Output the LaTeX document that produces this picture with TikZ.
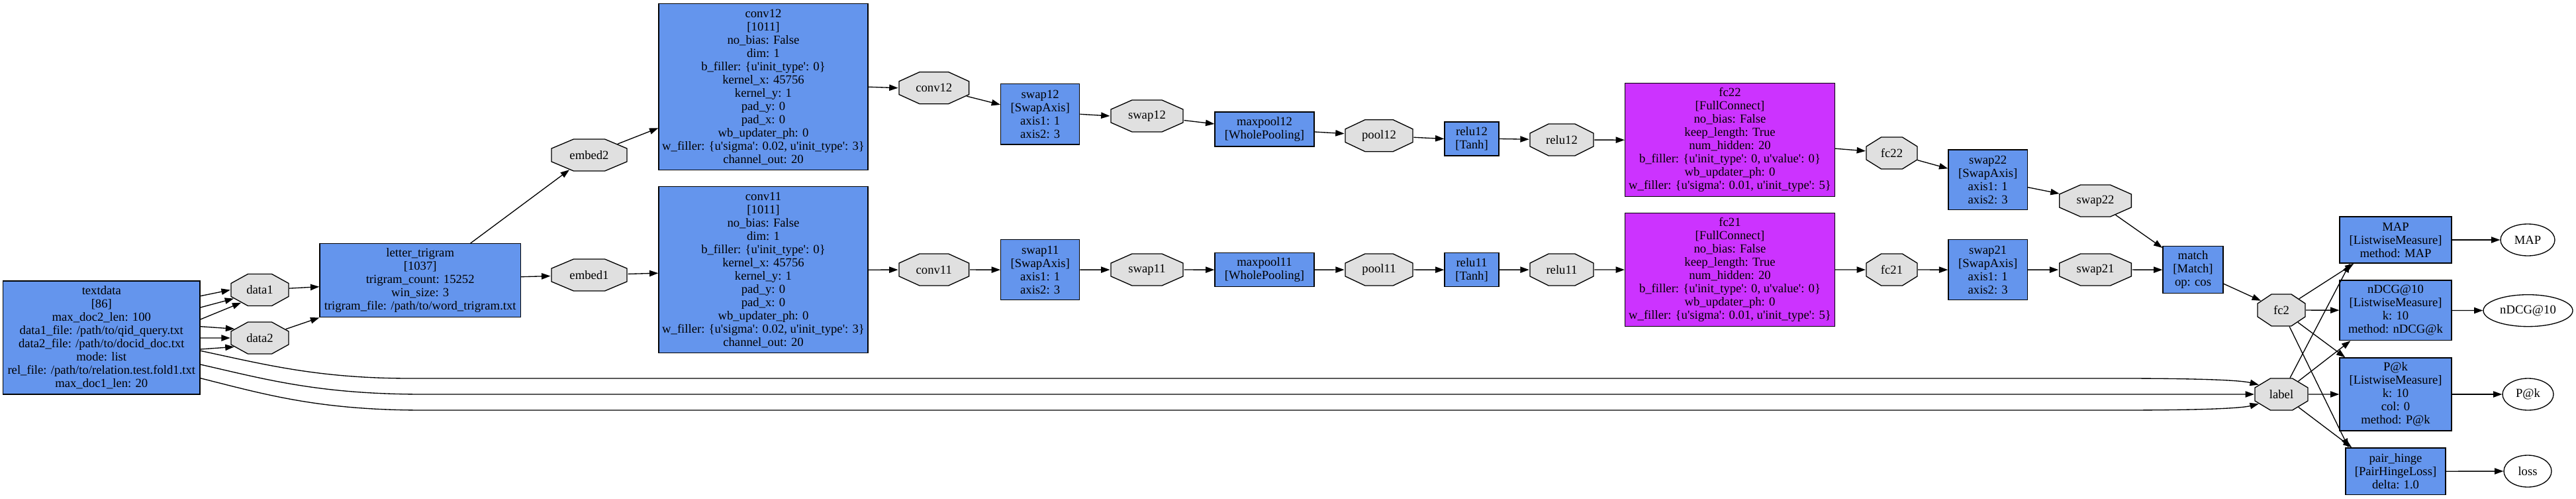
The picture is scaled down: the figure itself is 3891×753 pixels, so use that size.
\documentclass[tikz,border=0pt]{standalone}
\usepackage{fontspec}
\setmainfont{Liberation Serif}
\usepackage{graphicx}
\usetikzlibrary{shapes.geometric,arrows.meta,calc}
\definecolor{gvblue}{HTML}{6495ED}
\definecolor{gvpurple}{HTML}{CC33FF}
\definecolor{gvgray}{HTML}{E0E0E0}
\newcommand\gvfont{\fontsize{14pt}{15pt}\selectfont}
\newcommand\aps{\textquotesingle}
\tikzset{
  gvbox/.style n args={2}{rectangle, draw=black, fill=gvblue, line width=1pt,
    inner sep=0pt, align=center, font=\gvfont,
    minimum width=#1*0.75pt, minimum height=#2*0.75pt},
  octo/.style={regular polygon, regular polygon sides=8, draw=black, fill=gvgray,
    line width=1pt, inner sep=0pt, minimum size=38.966pt, font=\gvfont},
  oval/.style={ellipse, draw=black, fill=white, line width=1pt, inner sep=0pt,
    font=\gvfont, minimum height=36pt, minimum width=#1*0.75pt},
  arr/.style={-{Triangle[length=10pt,width=7pt]}, line width=1pt}
}
\newcommand\octnode[5]{%
  \pgfmathsetmacro\octsx{#4/48}%
  \pgfmathsetmacro\octinv{48/#4}%
  \begin{scope}[shift={(#2,#3)}]
    \node[octo, xscale=\octsx] (#1) at (0,0) {\scalebox{\octinv}[1]{#5}};
  \end{scope}}
\begin{document}
\begin{tikzpicture}[x=0.75pt,y=-0.75pt]
\fill[white] (0,0) rectangle (3891,753);
\useasboundingbox (0,0) rectangle (3891,753);

% ---------- boxes ----------
\node[gvbox={297.4}{171}] (textdata) at (153.3,509.5)
  {textdata\\{[86]}\\max\_doc2\_len: 100\\data1\_file: /path/to/qid\_query.txt\\data2\_file: /path/to/docid\_doc.txt\\mode: list\\rel\_file: /path/to/relation.test.fold1.txt\\max\_doc1\_len: 20};
\node[gvbox={303.5}{111}] (trigram) at (634.7,423.2)
  {letter\_trigram\\{[1037]}\\trigram\_count: 15252\\win\_size: 3\\trigram\_file: /path/to/word\_trigram.txt};
\node[gvbox={316}{251}] (conv12) at (1153,131.2)
  {conv12\\{[1011]}\\no\_bias: False\\dim: 1\\b\_filler: \{u\aps init\_type\aps: 0\}\\kernel\_x: 45756\\kernel\_y: 1\\pad\_y: 0\\pad\_x: 0\\wb\_updater\_ph: 0\\w\_filler: \{u\aps sigma\aps: 0.02, u\aps init\_type\aps: 3\}\\channel\_out: 20};
\node[gvbox={316}{251}] (conv11) at (1153,407.2)
  {conv11\\{[1011]}\\no\_bias: False\\dim: 1\\b\_filler: \{u\aps init\_type\aps: 0\}\\kernel\_x: 45756\\kernel\_y: 1\\pad\_y: 0\\pad\_x: 0\\wb\_updater\_ph: 0\\w\_filler: \{u\aps sigma\aps: 0.02, u\aps init\_type\aps: 3\}\\channel\_out: 20};
\node[gvbox={119}{91.3}] (swap12) at (1571.2,172.3) {swap12\\{[SwapAxis]}\\axis1: 1\\axis2: 3};
\node[gvbox={119}{91}] (swap11) at (1571.2,407.2) {swap11\\{[SwapAxis]}\\axis1: 1\\axis2: 3};
\node[gvbox={150}{51.7}] (maxpool12) at (1910,195) {maxpool12\\{[WholePooling]}};
\node[gvbox={150}{51}] (maxpool11) at (1910,407.2) {maxpool11\\{[WholePooling]}};
\node[gvbox={82}{51}] (relu12) at (2223,209.5) {relu12\\{[Tanh]}};
\node[gvbox={82}{51}] (relu11) at (2223,407.2) {relu11\\{[Tanh]}};
\node[gvbox={316.8}{171}, fill=gvpurple] (fc22) at (2613,211.2)
  {fc22\\{[FullConnect]}\\no\_bias: False\\keep\_length: True\\num\_hidden: 20\\b\_filler: \{u\aps init\_type\aps: 0, u\aps value\aps: 0\}\\wb\_updater\_ph: 0\\w\_filler: \{u\aps sigma\aps: 0.01, u\aps init\_type\aps: 5\}};
\node[gvbox={316.8}{171}, fill=gvpurple] (fc21) at (2613,407.2)
  {fc21\\{[FullConnect]}\\no\_bias: False\\keep\_length: True\\num\_hidden: 20\\b\_filler: \{u\aps init\_type\aps: 0, u\aps value\aps: 0\}\\wb\_updater\_ph: 0\\w\_filler: \{u\aps sigma\aps: 0.01, u\aps init\_type\aps: 5\}};
\node[gvbox={119.5}{90.7}] (swap22) at (3002.7,271.3) {swap22\\{[SwapAxis]}\\axis1: 1\\axis2: 3};
\node[gvbox={119.5}{91}] (swap21) at (3002.7,407.2) {swap21\\{[SwapAxis]}\\axis1: 1\\axis2: 3};
\node[gvbox={91}{71}] (match) at (3312.5,407.2) {match\\{[Match]}\\op: cos};
\node[gvbox={169}{70.3}] (MAPb) at (3618.5,362) {MAP\\{[ListwiseMeasure]}\\method: MAP};
\node[gvbox={169}{90.7}] (nDCGb) at (3618.5,468.3) {nDCG@10\\{[ListwiseMeasure]}\\k: 10\\method: nDCG@k};
\node[gvbox={169}{110}] (Pkb) at (3618.5,595) {P@k\\{[ListwiseMeasure]}\\k: 10\\col: 0\\method: P@k};
\node[gvbox={151}{70.7}] (hinge) at (3618.5,711.3) {pair\_hinge\\{[PairHingeLoss]}\\delta: 1.0};

% ---------- octagons ----------
\octnode{data1}{392.5}{437.5}{87}{data1}
\octnode{data2}{392.5}{510}{87}{data2}
\octnode{embed2}{890}{234}{114}{embed2}
\octnode{embed1}{890}{415}{114}{embed1}
\octnode{conv12o}{1410.8}{132.7}{105.6}{conv12}
\octnode{conv11o}{1410.8}{407}{105.6}{conv11}
\octnode{swap12o}{1732.5}{175}{109}{swap12}
\octnode{swap11o}{1732.5}{407}{109}{swap11}
\octnode{pool12}{2083}{204.7}{102}{pool12}
\octnode{pool11}{2083}{407}{102}{pool11}
\octnode{relu12o}{2359}{211}{96}{relu12}
\octnode{relu11o}{2359}{407}{96}{relu11}
\octnode{fc22o}{2857.5}{231}{77}{fc22}
\octnode{fc21o}{2857.5}{407}{77}{fc21}
\octnode{swap22o}{3165}{303}{108.6}{swap22}
\octnode{swap21o}{3165}{407}{108.6}{swap21}
\octnode{fc2}{3446}{468}{72}{fc2}
\octnode{label}{3446}{595}{80}{label}

% ---------- ellipses ----------
\node[oval=82] (MAPe) at (3818,362) {MAP};
\node[oval=135] (nDCGe) at (3818.5,468.7) {nDCG@10};
\node[oval=77] (Pke) at (3818.5,595) {P@k};
\node[oval=72] (loss) at (3818,711) {loss};

% ---------- edges ----------
\draw[arr] ($(textdata.east)+(0,-62.8)$) -- (data1.180);
\draw[arr] ($(textdata.east)+(0,-45.5)$) -- (data1.211);
\draw[arr] ($(textdata.east)+(0,-27.5)$) -- (data1.231);
\draw[arr] ($(textdata.east)+(0,-16.8)$) -- (data2.147);
\draw[arr] ($(textdata.east)+(0,0.5)$) -- (data2.180);
\draw[arr] ($(textdata.east)+(0,17.5)$) -- (data2.212);
\draw[arr] ($(textdata.east)+(0,19.8)$) .. controls (400,550) and (480,571) .. (620,571)
  -- (3200,571) .. controls (3330,571) and (3385,574) .. (label.145);
\draw[arr] ($(textdata.east)+(0,40.5)$) .. controls (400,572) and (480,595) .. (640,595) -- (label.180);
\draw[arr] ($(textdata.east)+(0,61.2)$) .. controls (400,595) and (480,619) .. (640,619)
  -- (3200,619) .. controls (3330,619) and (3385,616) .. (label.215);

\draw[arr] (data1) -- ($(trigram.west)+(0,9.5)$);
\draw[arr] (data2) -- (trigram.south west);
\draw[arr] ($(trigram.north)+(76,0)$) -- (embed2);
\draw[arr] ($(trigram.east)+(0,-5.5)$) -- (embed1);
\draw[arr] (embed2) -- ($(conv12.west)+(0,62)$);
\draw[arr] (embed1) -- ($(conv11.west)+(0,5)$);

\draw[arr] (conv12.east) -- (conv12o.180);
\draw[arr] (conv12o) -- ($(swap12.west)+(0,-14.3)$);
\draw[arr] (swap12.east) -- (swap12o.180);
\draw[arr] (swap12o) -- ($(maxpool12.west)+(0,-8)$);
\draw[arr] ($(maxpool12.east)+(0,4)$) -- (pool12);
\draw[arr] (pool12) -- (relu12.west);
\draw[arr] (relu12.east) -- (relu12o);
\draw[arr] (relu12o) -- (fc22.west);
\draw[arr] ($(fc22.east)+(0,13)$) -- (fc22o);
\draw[arr] (fc22o) -- ($(swap22.west)+(0,-17)$);
\draw[arr] ($(swap22.east)+(0,11.4)$) -- (swap22o);
\draw[arr] (swap22o) -- ($(match.north west)+(0,3)$);

\draw[arr] (conv11.east) -- (conv11o);
\draw[arr] (conv11o) -- (swap11);
\draw[arr] (swap11) -- (swap11o);
\draw[arr] (swap11o) -- (maxpool11);
\draw[arr] (maxpool11) -- (pool11);
\draw[arr] (pool11) -- (relu11);
\draw[arr] (relu11) -- (relu11o);
\draw[arr] (relu11o) -- (fc21);
\draw[arr] (fc21) -- (fc21o);
\draw[arr] (fc21o) -- (swap21);
\draw[arr] (swap21) -- (swap21o);
\draw[arr] (swap21o) -- (match);
\draw[arr] ($(match.east)+(0,21)$) -- (fc2);

\draw[arr] (fc2) -- ($(MAPb.south west)+(22,0)$);
\draw[arr] (label) -- ($(MAPb.south west)+(16,0)$);
\draw[arr] (fc2) -- (nDCGb);
\draw[arr] (label) -- ($(nDCGb.south west)+(17,0)$);
\draw[arr] (fc2) -- ($(Pkb.north west)+(9,0)$);
\draw[arr] (label) -- (Pkb);
\draw[arr] (fc2) -- ($(hinge.north west)+(5,0)$);
\draw[arr] (label) -- ($(hinge.north west)+(10,0)$);

\draw[arr] (MAPb) -- (MAPe);
\draw[arr] (nDCGb) -- (nDCGe);
\draw[arr] (Pkb) -- (Pke);
\draw[arr] (hinge) -- (loss);
\end{tikzpicture}
\end{document}
